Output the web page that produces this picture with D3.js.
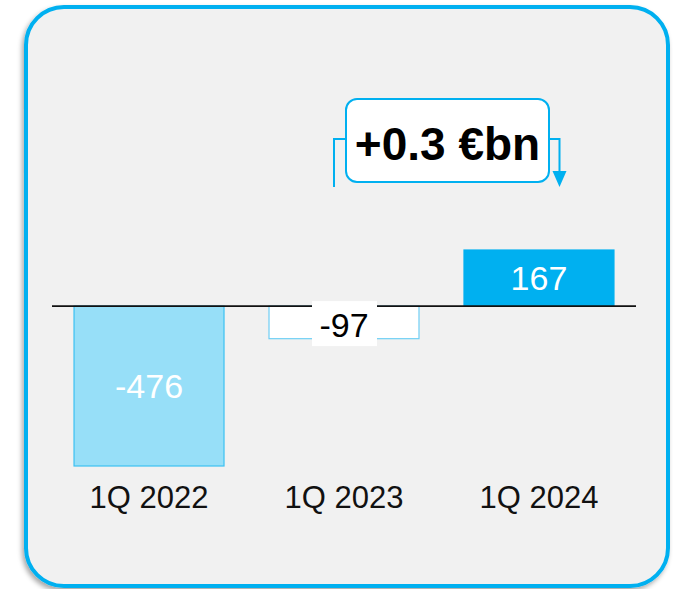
<!DOCTYPE html>
<html>
<head>
<meta charset="utf-8">
<script src="https://cdn.jsdelivr.net/npm/d3@7"></script>
<style>
  html, body { margin: 0; padding: 0; background: #ffffff; }
  svg { display: block; }
</style>
</head>
<body>
<svg id="chart" width="673" height="589"></svg>
<script>
// Quarterly values (€m)
const categories = ["1Q 2022", "1Q 2023", "1Q 2024"];
const values = [-476, -97, 167];
const fills = ["#97dff8", "#ffffff", "#00b0f0"];
const strokes = ["#3cc1f2", "#6fcff5", "#00b0f0"];
const labelColors = ["#ffffff", "#000000", "#ffffff"];
const deltaLabel = "+0.3 €bn";

const svg = d3.select("#chart");
const accent = "#00b0f0";
const font = "'Liberation Sans', Arial, sans-serif";

// Panel shadow and frame
const defs = svg.append("defs");
const f = defs.append("filter").attr("id", "shadow").attr("x", "-10%").attr("y", "-10%").attr("width", "120%").attr("height", "120%");
f.append("feDropShadow").attr("dx", -2).attr("dy", 3).attr("stdDeviation", 2.5).attr("flood-color", "#000").attr("flood-opacity", 0.35);

svg.append("rect")
  .attr("x", 26).attr("y", 7).attr("width", 642).attr("height", 579)
  .attr("rx", 38).attr("ry", 38)
  .attr("fill", "#f1f1f1")
  .attr("stroke", accent).attr("stroke-width", 4)
  .attr("filter", "url(#shadow)");

// Scales
const x = d3.scaleBand().domain(categories).range([52, 636]).paddingInner(0.2308).paddingOuter(0.113);
const y = d3.scaleLinear().domain([-476, 167]).range([466, 250]);

// Bars
svg.selectAll("rect.bar").data(values).join("rect")
  .attr("class", "bar")
  .attr("x", (d, i) => x(categories[i]))
  .attr("width", x.bandwidth())
  .attr("y", d => Math.min(y(d), y(0)))
  .attr("height", d => Math.abs(y(d) - y(0)))
  .attr("fill", (d, i) => fills[i])
  .attr("stroke", (d, i) => strokes[i])
  .attr("stroke-width", 1.2);

// Zero line
svg.append("line")
  .attr("x1", 52).attr("x2", 636)
  .attr("y1", y(0)).attr("y2", y(0))
  .attr("stroke", "#111").attr("stroke-width", 1.6);

// Value labels
values.forEach((v, i) => {
  const cx = x(categories[i]) + x.bandwidth() / 2;
  const cy = (y(v) + y(0)) / 2;
  const g = svg.append("g");
  if (i === 1) {
    g.append("rect")
      .attr("x", cx - 32).attr("y", y(0) - 5)
      .attr("width", 65).attr("height", 45)
      .attr("fill", "#ffffff");
  }
  g.append("text")
    .attr("x", cx).attr("y", i === 1 ? y(0) + 19 : cy)
    .attr("text-anchor", "middle")
    .attr("dominant-baseline", "central")
    .attr("font-family", font)
    .attr("font-size", 34)
    .attr("fill", labelColors[i])
    .text(String(v));
});

// Category labels
svg.selectAll("text.cat").data(categories).join("text")
  .attr("class", "cat")
  .attr("x", d => x(d) + x.bandwidth() / 2)
  .attr("y", 508)
  .attr("text-anchor", "middle")
  .attr("font-family", font)
  .attr("font-size", 31)
  .attr("fill", "#111")
  .text(d => d);

// Change callout with connectors
const bx = 346, by = 99, bw = 203, bh = 83, midY = 139;
svg.append("path")
  .attr("d", `M${bx},${midY} H334 V187`)
  .attr("fill", "none").attr("stroke", accent).attr("stroke-width", 2);
svg.append("path")
  .attr("d", `M${bx + bw},${midY} H559.5 V174`)
  .attr("fill", "none").attr("stroke", accent).attr("stroke-width", 2);
svg.append("path")
  .attr("d", "M552.5,171 L566.5,171 L559.5,187 Z")
  .attr("fill", accent);
svg.append("rect")
  .attr("x", bx).attr("y", by).attr("width", bw).attr("height", bh)
  .attr("rx", 11).attr("ry", 11)
  .attr("fill", "#ffffff").attr("stroke", accent).attr("stroke-width", 2);
svg.append("text")
  .attr("x", bx + bw / 2).attr("y", 160)
  .attr("text-anchor", "middle")
  .attr("font-family", font)
  .attr("font-weight", "bold")
  .attr("font-size", 46)
  .attr("fill", "#000")
  .text(deltaLabel);
</script>
</body>
</html>
